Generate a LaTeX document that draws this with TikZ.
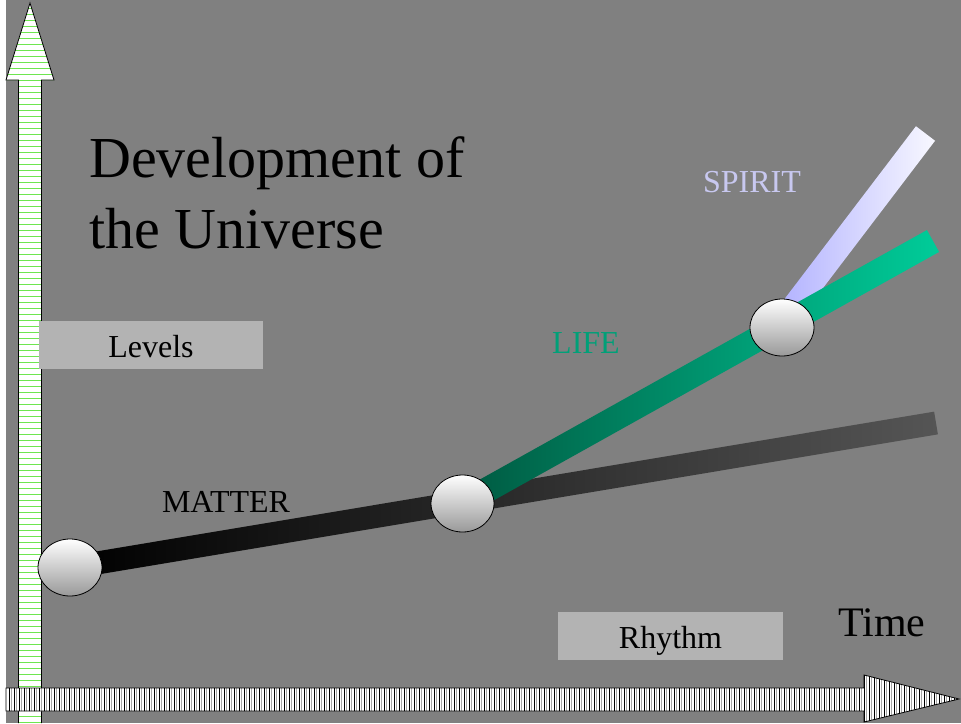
\documentclass[tikz,border=0pt]{standalone}
\usepackage{fontspec}
\setmainfont{Liberation Serif}
\usetikzlibrary{shapes.geometric,calc}
\definecolor{bg}{RGB}{128,128,128}
\definecolor{boxgray}{RGB}{179,179,179}
\definecolor{stripegreen}{RGB}{110,230,80}
\definecolor{matterend}{RGB}{85,85,85}
\definecolor{lifestart}{RGB}{0,88,64}
\definecolor{lifeend}{RGB}{0,204,153}
\definecolor{lifetext}{RGB}{0,160,120}
\definecolor{spiritstart}{RGB}{172,172,255}
\definecolor{spiritend}{RGB}{248,248,255}
\definecolor{spirittext}{RGB}{200,200,240}
\begin{document}
\begin{tikzpicture}[x=1pt,y=-1pt,
  ball/.style={ellipse,draw=black,line width=0.8pt,top color=white,bottom color=black!40,
    minimum width=63pt,minimum height=57pt,inner sep=0pt},
  labelbox/.style={fill=boxgray,minimum width=224pt,minimum height=48pt,inner sep=0pt,
    text height=24pt,text depth=0pt,font=\fontsize{32}{38}\selectfont},
  midtext/.style={anchor=base,font=\fontsize{32}{38}\selectfont,inner sep=0pt},
  titletext/.style={anchor=base west,font=\fontsize{58}{70}\selectfont,inner sep=0pt},
  arrowline/.style={draw=black,line width=0.8pt}]
\useasboundingbox (0,0) rectangle (961,723);
\fill[bg] (0,0) rectangle (961,723);
\fill[white] (0,0) rectangle (6,723);

% vertical arrow (Levels)
\begin{scope}
  \clip (18.5,723) -- (18.5,80) -- (6,80) -- (30,3) -- (54,80) -- (41.5,80) -- (41.5,723) -- cycle;
  \fill[white] (0,0) rectangle (60,723);
  \foreach \y in {8,14,...,723} \draw[stripegreen,line width=0.45pt] (0,\y) -- (60,\y);
\end{scope}
\draw[arrowline] (18.5,723) -- (18.5,80) -- (6,80) -- (30,3) -- (54,80) -- (41.5,80) -- (41.5,723);

% horizontal arrow (Time)
\begin{scope}
  \clip (6,688) -- (864,688) -- (864,675) -- (959,699) -- (864,722) -- (864,711) -- (6,711) -- cycle;
  \fill[white] (0,670) rectangle (961,723);
  \foreach \x in {9,14,...,960} {
    \draw[black,line width=0.6pt] (\x,670) -- (\x,723);
    \draw[black!35,line width=0.6pt] (\x+2.5,670) -- (\x+2.5,723);
  }
\end{scope}
\draw[arrowline] (6,688) -- (864,688) -- (864,675) -- (959,699) -- (864,722) -- (864,711) -- (6,711) -- cycle;

% level boxes
\node[labelbox] (levels) at (151,345) {Levels};
\node[labelbox,minimum width=225pt] (rhythm) at (670.5,636) {Rhythm};

% title and labels
\node[titletext] (title1) at (89,177) {Development of};
\node[titletext] (title2) at (89,248) {the Universe};
\node[midtext] (matter) at (226,512) {MATTER};
\node[midtext,text=lifetext] (life) at (586,353) {LIFE};
\node[midtext,text=spirittext] (spirit) at (752,192) {SPIRIT};
\node[anchor=base,font=\fontsize{42}{50}\selectfont,inner sep=0pt] (time) at (882,636) {Time};

% points
\coordinate (c1) at (70,567.5);
\coordinate (c2) at (462.5,503.5);
\coordinate (c3) at (782,327.5);
\coordinate (sStart) at (776,330);
\coordinate (mEnd) at (936,423);
\coordinate (lEnd) at (933,241);
\coordinate (sEnd) at (925.5,133.5);

% bars
\shade[left color=black,right color=matterend]
  ($(c1)!11.5pt!90:(mEnd)$) -- ($(mEnd)!11.5pt!-90:(c1)$) -- ($(mEnd)!11.5pt!90:(c1)$) -- ($(c1)!11.5pt!-90:(mEnd)$) -- cycle;
\shade[left color=spiritstart,right color=spiritend]
  ($(sStart)!12pt!90:(sEnd)$) -- ($(sEnd)!12pt!-90:(sStart)$) -- ($(sEnd)!12pt!90:(sStart)$) -- ($(sStart)!12pt!-90:(sEnd)$) -- cycle;
\shade[left color=lifestart,right color=lifeend]
  ($(c2)!12.5pt!90:(lEnd)$) -- ($(lEnd)!12.5pt!-90:(c2)$) -- ($(lEnd)!12.5pt!90:(c2)$) -- ($(c2)!12.5pt!-90:(lEnd)$) -- cycle;

% nodes
\node[ball,minimum width=64pt] (e1) at (c1) {};
\node[ball] (e2) at (c2) {};
\node[ball,minimum width=64pt] (e3) at (c3) {};
\end{tikzpicture}
\end{document}
